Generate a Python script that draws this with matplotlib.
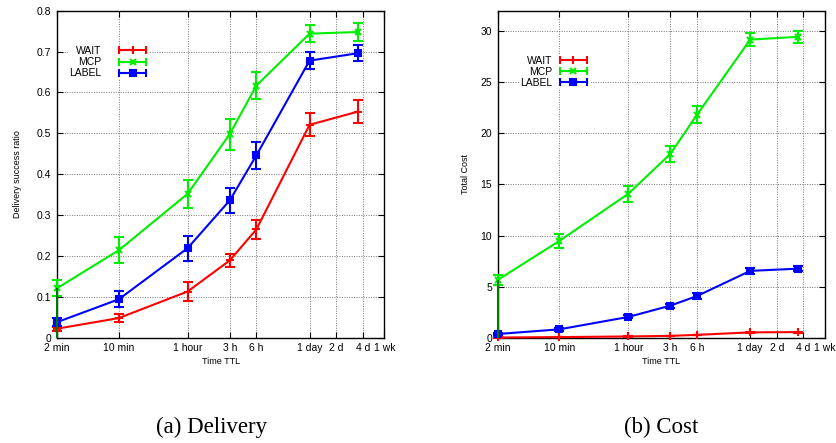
import matplotlib
matplotlib.use("Agg")
import matplotlib.pyplot as plt
from matplotlib.lines import Line2D
from matplotlib.legend_handler import HandlerLine2D

# ---- data (x in minutes) ----
ttl_min = [2, 10, 60, 180, 360, 1440, 5040]
tick_pos = [2, 10, 60, 180, 360, 1440, 2880, 5760, 10080]
tick_lab = ["2 min", "10 min", "1 hour", "3 h", "6 h", "1 day", "2 d", "4 d", "1 wk"]

deliv_wait = [0.022, 0.048, 0.113, 0.189, 0.265, 0.521, 0.553]
deliv_wait_err = [0.005, 0.010, 0.024, 0.017, 0.024, 0.028, 0.028]
deliv_mcp = [0.121, 0.214, 0.352, 0.498, 0.617, 0.744, 0.748]
deliv_mcp_err = [0.020, 0.032, 0.034, 0.038, 0.032, 0.020, 0.022]
deliv_label = [0.038, 0.094, 0.219, 0.336, 0.446, 0.678, 0.696]
deliv_label_err = [0.010, 0.020, 0.031, 0.031, 0.034, 0.021, 0.020]

cost_wait = [0.02, 0.06, 0.12, 0.18, 0.28, 0.52, 0.55]
cost_wait_err = [0.01, 0.01, 0.02, 0.02, 0.03, 0.05, 0.05]
cost_mcp = [5.65, 9.48, 14.08, 18.0, 21.83, 29.18, 29.45]
cost_mcp_err = [0.5, 0.7, 0.8, 0.8, 0.85, 0.6, 0.6]
cost_label = [0.36, 0.82, 2.03, 3.14, 4.08, 6.54, 6.76]
cost_label_err = [0.10, 0.12, 0.15, 0.2, 0.25, 0.3, 0.25]

series_names = ["WAIT", "MCP", "LABEL"]
colors = ["#ff0000", "#00ee00", "#0000ff"]
markers = ["+", "x", "s"]
msizes = [6, 5, 4.5]

plt.rcParams["font.family"] = ["Liberation Sans", "DejaVu Sans"]

fig = plt.figure(figsize=(8.37, 4.43), dpi=100)
ax1 = fig.add_axes([0.0681, 0.2377, 0.391, 0.738])
ax2 = fig.add_axes([0.5946, 0.2377, 0.391, 0.738])


def draw(ax, ys, errs, ylim, yticks, yticklabels, ylabel, ylabelpad, leg_anchor, textpad):
    # green artefact line along left axis, from data
    ax.vlines(ttl_min[0], 0, ys[1][0], color="#007700", lw=1.5, zorder=4, clip_on=False)
    handles = []
    for y, e, c, m, ms in zip(ys, errs, colors, markers, msizes):
        ax.errorbar(ttl_min, y, yerr=e, color=c, lw=1.5, marker=m, ms=ms,
                    mew=1.5, capsize=3.5, capthick=1.5, elinewidth=1.5, zorder=3,
                    clip_on=False)
        caps = Line2D([], [], color=c, lw=1.5, marker="|", ms=6, mew=1.5)
        mid = Line2D([], [], color=c, lw=0, marker=m, ms=ms, mew=1.5)
        handles.append((caps, mid))
    ax.set_xscale("log")
    ax.set_xlim(tick_pos[0], tick_pos[-1])
    ax.set_ylim(*ylim)
    ax.set_xticks(tick_pos)
    ax.set_xticklabels(tick_lab)
    ax.xaxis.set_minor_locator(matplotlib.ticker.NullLocator())
    ax.set_yticks(yticks)
    ax.set_yticklabels(yticklabels)
    ax.tick_params(direction="in", length=4, width=0.8, top=True, right=True,
                   labelsize=7.5, pad=4, colors="black")
    ax.grid(True, which="major", color="#777777", linestyle=(0, (1, 1.5)), lw=0.7)
    ax.set_axisbelow(True)
    for s in ax.spines.values():
        s.set_linewidth(1.0)
    ax.set_xlabel("Time TTL", fontsize=6.5, labelpad=3)
    ax.set_ylabel(ylabel, fontsize=6.5, labelpad=ylabelpad)
    hm = {}
    for caps, mid in handles:
        hm[caps] = HandlerLine2D(numpoints=2)
        hm[mid] = HandlerLine2D(numpoints=1)
    leg = ax.legend(handles, series_names, handler_map=hm, loc="upper right",
                    bbox_to_anchor=leg_anchor, markerfirst=False, fontsize=7.5,
                    frameon=True, facecolor="white", edgecolor="none", framealpha=1,
                    fancybox=False, borderpad=0.1, borderaxespad=0, labelspacing=0.1,
                    handlelength=3.2, handletextpad=textpad)
    leg.set_zorder(2.5)


draw(ax1, [deliv_wait, deliv_mcp, deliv_label],
     [deliv_wait_err, deliv_mcp_err, deliv_label_err],
     (0, 0.8), [0, 0.1, 0.2, 0.3, 0.4, 0.5, 0.6, 0.7, 0.8],
     ["0", "0.1", "0.2", "0.3", "0.4", "0.5", "0.6", "0.7", "0.8"],
     "Delivery success ratio", 11, (0.285, 0.895), 1.4)

draw(ax2, [cost_wait, cost_mcp, cost_label],
     [cost_wait_err, cost_mcp_err, cost_label_err],
     (0, 32), [0, 5, 10, 15, 20, 25, 30],
     ["0", "5", "10", "15", "20", "25", "30"],
     "Total Cost", 7.5, (0.285, 0.865), 0.45)

fig.text(212 / 837, 1 - 427 / 443, "(a) Delivery", family=["Liberation Serif"],
         fontsize=16.5, ha="center", va="center")
fig.text(661 / 837, 1 - 427 / 443, "(b) Cost", family=["Liberation Serif"],
         fontsize=16.5, ha="center", va="center")

fig.savefig("out.png", dpi=100, facecolor="white")
